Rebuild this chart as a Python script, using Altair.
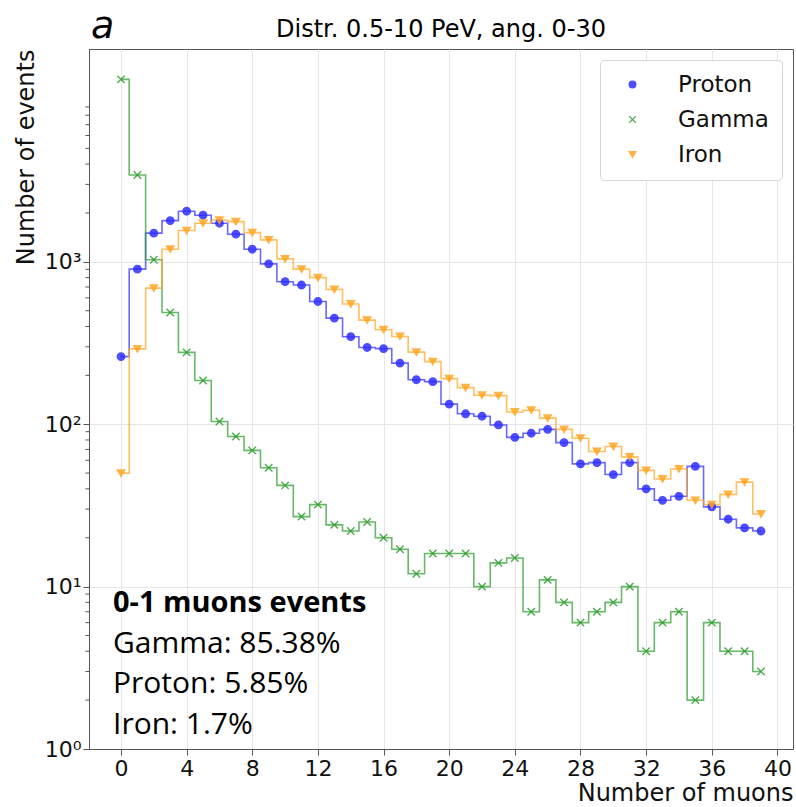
import altair as alt
import pandas as pd

# ---- data ----
n_muons = list(range(40))
proton = [261, 902, 1503, 1795, 2050, 1937, 1729, 1480, 1196, 972,
          755, 720, 570, 450, 346, 297, 292, 238, 188, 183,
          133, 116, 112, 99, 83, 88, 93, 77, 57, 58,
          49, 58, 40, 34, 36, 55, 31, 26, 23, 22]
gamma = [13300, 3430, 1030, 488, 277, 186, 104, 84, 69, 54,
         42, 27, 32, 24, 22, 25, 20, 17, 12, 16,
         16, 16, 10, 14, 15, 7, 11, 8, 6, 7,
         8, 10, 4, 6, 7, 2, 6, 4, 4, 3]
iron = [50, 291, 689, 1197, 1559, 1730, 1806, 1770, 1514, 1365,
        1043, 902, 800, 676, 550, 438, 382, 347, 278, 243,
        191, 168, 151, 150, 119, 122, 109, 93, 82, 68,
        73, 63, 52, 46, 53, 34, 32, 37, 44, 28]

series_names = ["Proton", "Gamma", "Iron"]
series_colors = ["#2f2fff", "#2e9e2e", "#ffa625"]
x_ticks = list(range(0, 41, 4))
y_ticks = [1, 10, 100, 1000]
y_minor = [m * 10 ** k for k in range(4) for m in range(2, 10)]
annot_lines = ["0-1 muons events", "Gamma: 85.38%", "Proton: 5.85%", "Iron: 1.7%"]
title_text = "Distr. 0.5-10 PeV, ang. 0-30"
panel_letter = "a"

rows = []
for name, vals in zip(series_names, [proton, gamma, iron]):
    for n, v in zip(n_muons, vals):
        rows.append({"n": n, "count": v, "series": name})
df = pd.DataFrame(rows)

W, H = 704, 700
FONT = "DejaVu Sans"
xscale = alt.Scale(domain=[-1.95, 40.95], nice=False, zero=False)
yscale = alt.Scale(type="log", domain=[1, 20460], nice=False)

x_axis = alt.Axis(values=x_ticks, title="Number of muons", titleX=W, titleY=51,
                  titleAlign="right", titleBaseline="alphabetic", labelPadding=3,
                  tickSize=6, labelFlush=False)
y_axis = alt.Axis(values=y_ticks, title="Number of events", titleX=-56, titleY=0,
                  titleAlign="right", titleAngle=-90, titleBaseline="alphabetic",
                  labelExpr="datum.value == 1 ? '10⁰' : datum.value == 10 ? '10¹' : datum.value == 100 ? '10²' : '10³'",
                  labelPadding=2, tickSize=6)

X = alt.X("n:Q", scale=xscale, axis=x_axis)
Y = alt.Y("count:Q", scale=yscale, axis=y_axis)

xpath = "M-1,-1L1,1M-1,1L1,-1"
shape_scale = alt.Scale(domain=series_names, range=["circle", xpath, "triangle-down"])
col_scale = alt.Scale(domain=series_names, range=series_colors)

line_layers = []
for name, col in zip(series_names, series_colors):
    line_layers.append(
        alt.Chart(df).transform_filter(alt.datum.series == name)
        .mark_line(interpolate="step", strokeWidth=1.6, opacity=0.72, color=col)
        .encode(x=X, y=Y)
    )

def make_legend():
    return alt.Legend(title="\u00a0", titleOrient="left", titleFontSize=2, titlePadding=0,
                      labelExpr="datum.label + '\u00a0\u00a0'")

points = alt.Chart(df).mark_point(filled=True, size=55, strokeWidth=1.4, opacity=0.85).encode(
    x=X, y=Y,
    fill=alt.Fill("series:N", scale=col_scale, legend=make_legend()),
    stroke=alt.Stroke("series:N", scale=col_scale, legend=make_legend()),
    shape=alt.Shape("series:N", scale=shape_scale, legend=make_legend()),
)

minor = alt.Chart(pd.DataFrame({"count": y_minor})).mark_rule(color="#555", strokeWidth=1).encode(
    y=Y, x=alt.value(-3.5), x2=alt.value(0)
)

texts = []
for i, line in enumerate(annot_lines):
    texts.append(
        alt.Chart(pd.DataFrame({"t": [line]})).mark_text(
            align="left", baseline="alphabetic", font="Open Sans",
            fontSize=29 if i == 0 else 30,
            fontWeight="bold" if i == 0 else "normal", color="#000"
        ).encode(text="t:N", x=alt.value(24), y=alt.value(563 + i * 40.5))
    )

letter = alt.Chart(pd.DataFrame({"t": [panel_letter]})).mark_text(
    align="left", baseline="alphabetic", font=FONT, fontSize=38,
    fontStyle="italic", color="#000"
).encode(text="t:N", x=alt.value(2), y=alt.value(-11))

title = alt.Chart(pd.DataFrame({"t": [title_text]})).mark_text(
    align="center", baseline="alphabetic", font=FONT, fontSize=24, color="#000"
).encode(text="t:N", x=alt.value(W / 2), y=alt.value(-12))

chart = alt.layer(*line_layers, minor, points, *texts, letter, title).properties(
    width=W, height=H,
    autosize=alt.AutoSizeParams(type="none"),
    padding={"left": 89, "top": 49, "right": 3, "bottom": 58},
).configure_view(
    stroke="#555", strokeWidth=1
).configure_axis(
    grid=True, gridColor="#e6e6e6", gridWidth=1,
    domainColor="#555", tickColor="#555",
    labelFont=FONT, labelFontSize=22, labelColor="#111",
    titleFont=FONT, titleFontSize=24, titleFontWeight="normal", titleColor="#111",
).configure_legend(
    orient="none", legendX=511, legendY=11,
    fillColor="white", strokeColor="#d5d5d5", cornerRadius=4, padding=13,
    labelFont=FONT, labelFontSize=23, labelColor="#111",
    symbolSize=45, symbolOffset=8, labelOffset=34, rowPadding=11,
    symbolStrokeWidth=1.3, symbolOpacity=0.85,
)

chart.save("out.html", embed_options={"renderer": "svg", "actions": False})
